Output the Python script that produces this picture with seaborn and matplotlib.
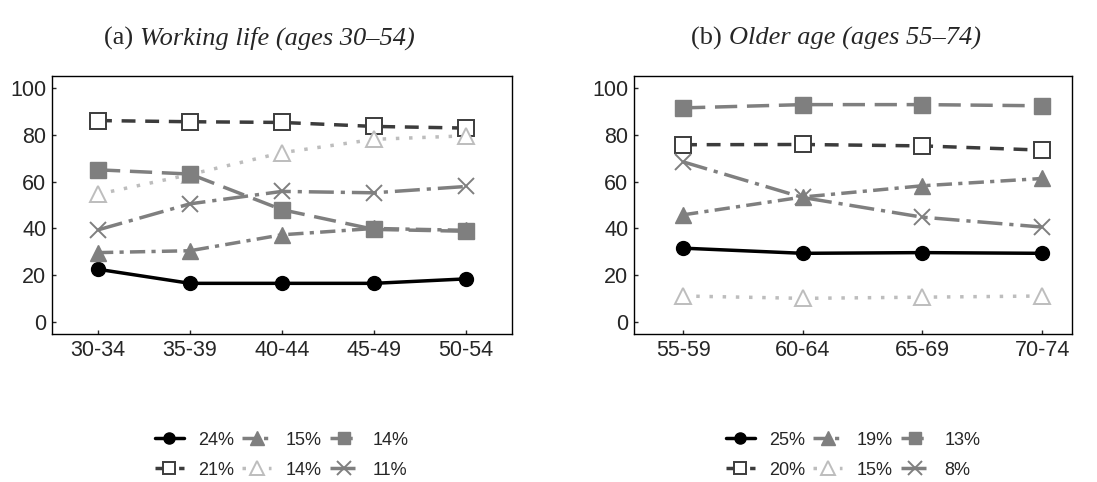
import matplotlib
matplotlib.use("Agg")
import matplotlib.pyplot as plt
import seaborn as sns
import pandas as pd

# Age groups for each panel
ages_work = ["30-34", "35-39", "40-44", "45-49", "50-54"]
ages_old = ["55-59", "60-64", "65-69", "70-74"]

# Working life (ages 30-54): share (%) per class
work_c1 = [22.6, 16.6, 16.6, 16.6, 18.5]   # 24%
work_c2 = [86.0, 85.5, 85.2, 83.5, 82.8]   # 21%
work_c3 = [29.7, 30.5, 37.3, 40.0, 39.2]   # 15%
work_c4 = [54.6, 63.0, 72.3, 78.0, 79.5]   # 14% (open triangles)
work_c5 = [65.0, 63.2, 48.0, 39.6, 38.8]   # 14% (filled squares)
work_c6 = [39.4, 50.5, 55.8, 55.2, 57.9]   # 11%
work_labels = ["24%", "21%", "15%", "14%", "14%", "11%"]

# Older age (ages 55-74): share (%) per class
old_c1 = [31.6, 29.4, 29.7, 29.4]   # 25%
old_c2 = [75.7, 75.8, 75.2, 73.4]   # 20%
old_c3 = [45.8, 53.4, 58.2, 61.3]   # 19%
old_c4 = [11.2, 10.2, 10.7, 11.2]   # 15%
old_c5 = [91.4, 92.8, 92.8, 92.3]   # 13%
old_c6 = [68.4, 53.2, 44.8, 40.6]   # 8%
old_labels = ["25%", "20%", "19%", "15%", "13%", "8%"]

# Panel captions
title_work = ("(a) ", "Working life (ages 30–54)")
title_old = ("(b) ", "Older age (ages 55–74)")

plt.rcParams["lines.scale_dashes"] = False

# Line styling per class slot (same order as the series lists)
styles = [
    dict(color="#000000", marker="o", ms=10, mfc="#000000", mec="#000000", ls="-"),
    dict(color="#3c3c3c", marker="s", ms=11, mfc="white", mec="#3c3c3c", mew=1.4, ls=(0, (10, 7))),
    dict(color="#7f7f7f", marker="^", ms=12, mfc="#7f7f7f", mec="#7f7f7f", ls=(0, (11, 4.5, 3, 4.5))),
    dict(color="#bdbdbd", marker="^", ms=12, mfc="white", mec="#bdbdbd", mew=1.4, ls=(0, (2.5, 7))),
    dict(color="#7f7f7f", marker="s", ms=11, mfc="#7f7f7f", mec="#7f7f7f", ls=(0, (16, 7))),
    dict(color="#7f7f7f", marker="x", ms=12, mfc="#7f7f7f", mec="#7f7f7f", mew=1.4, ls=(0, (18, 5, 3, 5))),
]

sns.set_style("white")
plt.rcParams["font.family"] = ["Liberation Sans", "DejaVu Sans"]

fig = plt.figure(figsize=(10.97, 4.82), dpi=100)
ax1 = fig.add_axes([52 / 1097, 1 - 334 / 482, 460 / 1097, 258 / 482])
ax2 = fig.add_axes([634 / 1097, 1 - 334 / 482, 438 / 1097, 258 / 482])


def draw_panel(ax, ages, series, labels, xlim):
    handles = []
    for vals, lab, st in zip(series, labels, styles):
        df = pd.DataFrame({"age": ages, "value": vals})
        sns.lineplot(data=df, x="age", y="value", ax=ax, sort=False,
                     color=st["color"], linestyle=st["ls"], linewidth=2.5,
                     marker=st["marker"], markersize=st["ms"],
                     markerfacecolor=st["mfc"], markeredgecolor=st["mec"],
                     markeredgewidth=st.get("mew", 1.0), label=lab)
        handles.append(ax.get_lines()[-1])
    ax.set_xlim(*xlim)
    ax.set_ylim(-5, 105)
    ax.set_yticks([0, 20, 40, 60, 80, 100])
    ax.set_xlabel("")
    ax.set_ylabel("")
    ax.tick_params(direction="in", length=3, width=1, labelsize=15.5, pad=4,
                   bottom=True, left=True)
    for sp in ax.spines.values():
        sp.set_visible(True)
        sp.set_color("black")
        sp.set_linewidth(1.0)
    ax.legend(handles, labels, loc="upper center", bbox_to_anchor=(0.5, -0.315),
              ncol=3, frameon=False, fontsize=13, handlelength=1.6,
              handletextpad=0.8, columnspacing=0.45, labelspacing=0.72,
              numpoints=1, markerscale=0.8)


draw_panel(ax1, ages_work,
           [work_c1, work_c2, work_c3, work_c4, work_c5, work_c6],
           work_labels, (-0.5, 4.5))
draw_panel(ax2, ages_old,
           [old_c1, old_c2, old_c3, old_c4, old_c5, old_c6],
           old_labels, (-0.41, 3.25))

# Captions: upright "(a) " followed by italic text, centred as a unit
serif = ["Liberation Serif", "DejaVu Serif"]
renderer = fig.canvas.get_renderer()


def caption(xc_px, yc_px, parts, size=19):
    head, body = parts
    t1 = fig.text(0, 1 - yc_px / 482, head, fontsize=size, family=serif,
                  ha="left", va="center")
    t2 = fig.text(0, 1 - yc_px / 482, body, fontsize=size, family=serif,
                  style="italic", ha="left", va="center")
    w1 = t1.get_window_extent(renderer).width
    w2 = t2.get_window_extent(renderer).width
    x0 = xc_px - (w1 + w2) / 2
    t1.set_x(x0 / 1097)
    t2.set_x((x0 + w1) / 1097)


caption(259, 38, title_work)
caption(836, 38, title_old)

fig.savefig("out.png", dpi=100)
